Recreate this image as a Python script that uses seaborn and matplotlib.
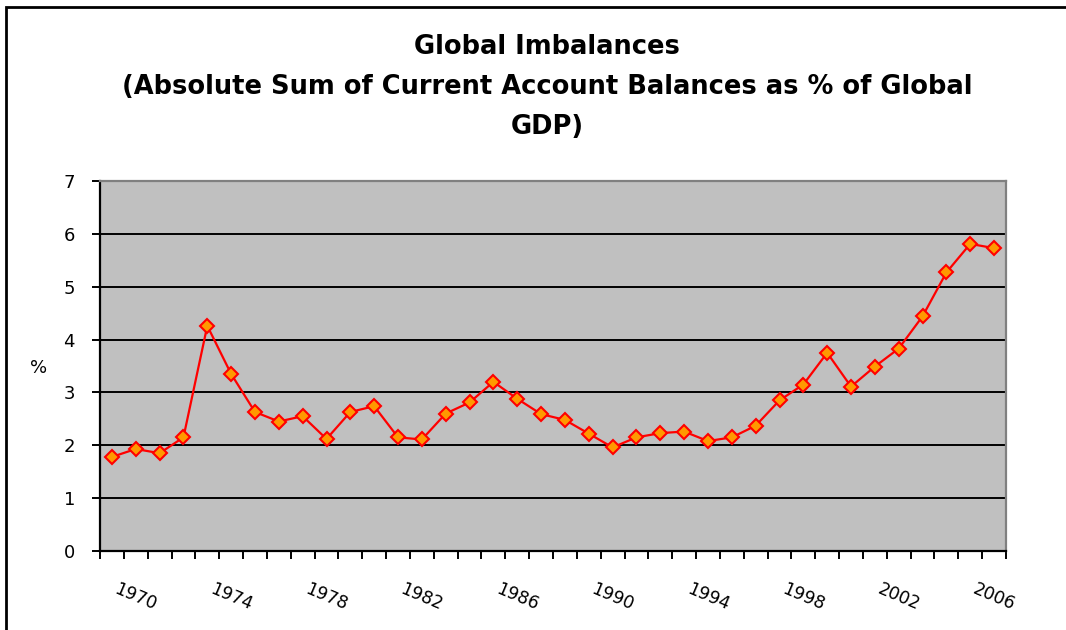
import matplotlib
matplotlib.use("Agg")
import matplotlib.pyplot as plt
import matplotlib.transforms as mtransforms
import numpy as np
import pandas as pd
import seaborn as sns
from matplotlib.patches import Rectangle

# absolute sum of current account balances, % of global GDP
YEARS = list(range(1969, 2007))
IMBALANCE = [1.78, 1.93, 1.85, 2.15, 4.26, 3.35, 2.63, 2.45, 2.55, 2.12,
             2.63, 2.74, 2.15, 2.11, 2.60, 2.81, 3.20, 2.88, 2.59, 2.48,
             2.22, 1.96, 2.15, 2.23, 2.26, 2.08, 2.15, 2.37, 2.85, 3.15,
             3.75, 3.11, 3.49, 3.83, 4.44, 5.27, 5.81, 5.73]
LABEL_YEARS = list(range(1970, 2007, 4))
Y_TICKS = list(range(0, 8))

TITLE = ("Global Imbalances\n(Absolute Sum of Current Account Balances as % of Global\nGDP)")

sns.set_theme(style="white")
plt.rcParams["font.family"] = ["DejaVu Sans"]
plt.rcParams.update({"text.color": "black", "xtick.color": "black",
                     "ytick.color": "black", "axes.labelcolor": "black"})

df = pd.DataFrame({"year": YEARS, "pct": IMBALANCE})

fig = plt.figure(figsize=(10.66, 6.30), dpi=100)
ax = fig.add_axes([100 / 1066, 79 / 630, 906 / 1066, 370 / 630])
ax.set_facecolor("#C0C0C0")

sns.lineplot(data=df, x="year", y="pct", ax=ax, color="#FF0000", lw=1.6,
             marker="D", markersize=7, markerfacecolor="#FF9900",
             markeredgecolor="#FF0000", markeredgewidth=1.5, zorder=3)

ax.set_xlim(YEARS[0] - 0.5, YEARS[-1] + 0.5)
ax.set_ylim(0, 7)
ax.set_yticks(Y_TICKS)
ax.set_yticklabels([str(v) for v in Y_TICKS])
ax.yaxis.grid(True, color="black", lw=1.4)
ax.set_axisbelow(True)

# tick marks sit between categories, labels on every 4th year
ax.set_xticks(np.arange(YEARS[0] - 0.5, YEARS[-1] + 1, 1.0))
ax.set_xticklabels([])
ax.set_xticks(LABEL_YEARS, minor=True)
ax.set_xticklabels([str(y) for y in LABEL_YEARS], minor=True, rotation=-23,
                   ha="center", fontsize=12.5, color="black")
shift = mtransforms.ScaledTranslation(8 / 100, 0, fig.dpi_scale_trans)
for lbl in ax.get_xticklabels(minor=True):
    lbl.set_transform(lbl.get_transform() + shift)
ax.tick_params(axis="x", which="major", direction="out", length=6, width=1.4,
               color="black", bottom=True)
ax.tick_params(axis="x", which="minor", length=0, pad=21, bottom=True)
ax.tick_params(axis="y", direction="out", length=6, width=1.4, color="black",
               left=True, pad=12, labelsize=13, labelcolor="black")

for side in ("left", "bottom"):
    ax.spines[side].set_color("black")
    ax.spines[side].set_linewidth(1.6)
for side in ("top", "right"):
    ax.spines[side].set_color("#808080")
    ax.spines[side].set_linewidth(1.6)

ax.set_xlabel("")
ax.set_ylabel("")
fig.text(39 / 1066, 1 - 368 / 630, "%", ha="center", va="center", fontsize=13,
         color="black")

fig.text(547 / 1066, 1 - 87 / 630, TITLE, ha="center", va="center",
         fontsize=18.5, fontweight="bold", linespacing=1.7, color="black")

# chart frame: only top and left edges fall inside the image
fig.add_artist(Rectangle((6 / 1066, -0.2), 1.2, 1.2 - 7 / 630, fill=False,
                         edgecolor="black", lw=2, transform=fig.transFigure))

fig.savefig("out.png", dpi=100)
